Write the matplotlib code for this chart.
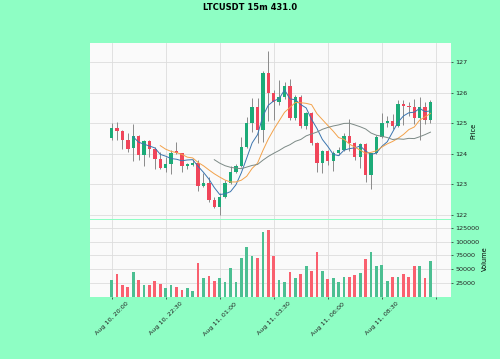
import numpy as np
import pandas as pd
import matplotlib
matplotlib.use('Agg')
import matplotlib.pyplot as plt

# LTCUSDT 15m candles, Aug 10 20:00 -> Aug 11 10:45
opens = [124.51, 124.83, 124.75, 124.45, 124.18, 124.58, 123.96, 124.43, 124.15, 123.84,
         123.53, 123.67, 124.10, 124.02, 123.59, 123.65, 123.70, 122.95, 123.04, 122.50,
         122.27, 122.58, 123.06, 123.42, 123.60, 124.23, 125.00, 125.52, 124.77, 126.65,
         126.00, 125.70, 125.87, 126.22, 125.17, 125.87, 124.91, 125.32, 124.34, 123.69,
         124.08, 123.78, 124.02, 124.12, 124.58, 124.34, 123.91, 124.32, 123.31, 124.02,
         124.56, 125.00, 125.07, 124.92, 125.62, 125.57, 125.52, 125.16, 125.54, 125.10]
highs = [125.00, 125.03, 124.78, 124.67, 124.97, 124.60, 124.45, 124.45, 124.21, 124.07,
         123.90, 124.12, 124.40, 124.04, 123.70, 123.82, 123.80, 123.36, 123.23, 122.58,
         122.71, 123.14, 123.60, 123.67, 124.56, 125.19, 125.81, 125.81, 126.72, 127.36,
         126.10, 126.41, 126.34, 126.44, 125.92, 125.92, 125.38, 125.38, 124.40, 124.14,
         124.12, 124.10, 124.22, 124.67, 125.15, 124.38, 124.35, 124.35, 124.04, 124.60,
         125.32, 125.22, 125.30, 125.76, 125.76, 125.70, 125.80, 125.87, 125.68, 125.76]
lows = [124.45, 124.45, 124.15, 124.07, 123.78, 123.80, 123.60, 123.88, 123.49, 123.49,
        123.42, 123.34, 124.00, 123.42, 123.49, 123.60, 122.80, 122.93, 122.43, 122.22,
        122.00, 122.55, 123.00, 123.36, 123.58, 124.18, 124.72, 124.36, 124.39, 125.07,
        125.10, 125.60, 125.80, 125.10, 125.10, 124.83, 124.80, 124.29, 123.42, 123.38,
        123.62, 123.45, 123.95, 124.10, 124.10, 123.80, 123.55, 123.09, 122.84, 124.00,
        124.52, 124.87, 124.80, 124.88, 124.94, 125.25, 124.96, 124.45, 124.98, 125.00]
closes = [124.83, 124.75, 124.45, 124.15, 124.58, 123.96, 124.43, 124.15, 123.84, 123.53,
          123.66, 124.04, 124.04, 123.59, 123.66, 123.71, 122.95, 123.06, 122.49, 122.27,
          122.58, 123.06, 123.42, 123.60, 124.23, 125.00, 125.52, 124.77, 126.65, 126.00,
          125.70, 125.87, 126.22, 125.17, 125.87, 124.91, 125.32, 124.34, 123.69, 124.08,
          123.78, 124.02, 124.12, 124.58, 124.34, 123.91, 124.32, 123.31, 124.02, 124.56,
          125.00, 125.07, 124.92, 125.62, 125.57, 125.52, 125.16, 125.54, 125.10, 125.68]
volumes = [31000, 41300, 22000, 17200, 46000, 30400, 22000, 20800, 29200, 23800,
           15400, 21400, 17200, 13500, 16000, 11100, 60500, 34000, 38300, 28600,
           34000, 26800, 51500, 26200, 70200, 89500, 74400, 70200, 116600, 121400,
           73200, 31000, 27400, 45500, 34600, 41300, 55700, 46700, 80400, 46700,
           32200, 34000, 26800, 35800, 35800, 39500, 43700, 68400, 81600, 55100,
           58100, 28600, 35800, 37000, 41900, 36400, 56300, 56300, 34600, 64800]
tick_labels = ['Aug 10, 20:00', 'Aug 10, 22:30', 'Aug 11, 01:00', 'Aug 11, 03:30',
               'Aug 11, 06:00', 'Aug 11, 08:30', '']
mav_periods = [5, 10, 20]
mav_colors = ['#3b75af', '#f3a24a', '#7c8a86']

BG = '#8efec4'
UP = '#1cab78'
DOWN = '#f0455a'
VUP = '#4cbf92'
VDOWN = '#f9606f'

df = pd.DataFrame({'Open': opens, 'High': highs, 'Low': lows,
                   'Close': closes, 'Volume': volumes})
x = np.arange(len(df))
up = df['Close'] >= df['Open']

fig = plt.figure(figsize=(5, 3.59), dpi=100, facecolor=BG)
ax = fig.add_axes([0.18, 0.39, 0.722, 0.4903])
axv = fig.add_axes([0.18, 0.1727, 0.722, 0.2145], sharex=ax)

for a in (ax, axv):
    a.set_facecolor('#fafafa')
    a.grid(True, color='#dddddd', linewidth=0.6)
    a.set_axisbelow(True)
    for s in a.spines.values():
        s.set_visible(False)
    a.yaxis.tick_right()
    a.yaxis.set_label_position('right')
    a.tick_params(labelsize=4.6, length=1.5, width=0.5, pad=1.5, colors='#222222')

# wicks and bodies
ax.vlines(x, df['Low'], df['High'], color='#8a8a8a', linewidth=0.7, zorder=2)
body_bottom = np.minimum(df['Open'], df['Close'])
body_height = (df['Close'] - df['Open']).abs().clip(lower=0.02)
ax.bar(x, body_height, bottom=body_bottom, width=0.62,
       color=np.where(up, UP, DOWN), zorder=3)

# moving averages of the close
for n, c in zip(mav_periods, mav_colors):
    ax.plot(x, df['Close'].rolling(n).mean(), color=c, linewidth=0.7, zorder=4)

ax.set_ylim(121.87, 127.62)
ax.set_yticks([122, 123, 124, 125, 126, 127])
ax.set_ylabel('Price', fontsize=4.8, labelpad=2)
ax.tick_params(axis='x', labelbottom=False, length=0)

axv.bar(x, df['Volume'], width=0.5, color=np.where(up, VUP, VDOWN), zorder=3)
axv.set_ylim(0, 139000)
axv.set_yticks([25000, 50000, 75000, 100000, 125000])
axv.set_yticklabels(['25000', '50000', '75000', '100000', '125000'])
axv.set_ylabel('Volume', fontsize=4.8, labelpad=2)

axv.set_xlim(-4.0, 62.8)
axv.set_xticks(np.arange(0, 61, 10))
axv.set_xticklabels(tick_labels, rotation=45, ha='center')

fig.text(0.5, 1 - 7 / 359, 'LTCUSDT 15m 431.0', ha='center', va='center',
         fontsize=6, fontweight='bold')

fig.savefig('out.png', dpi=100, facecolor=BG)
